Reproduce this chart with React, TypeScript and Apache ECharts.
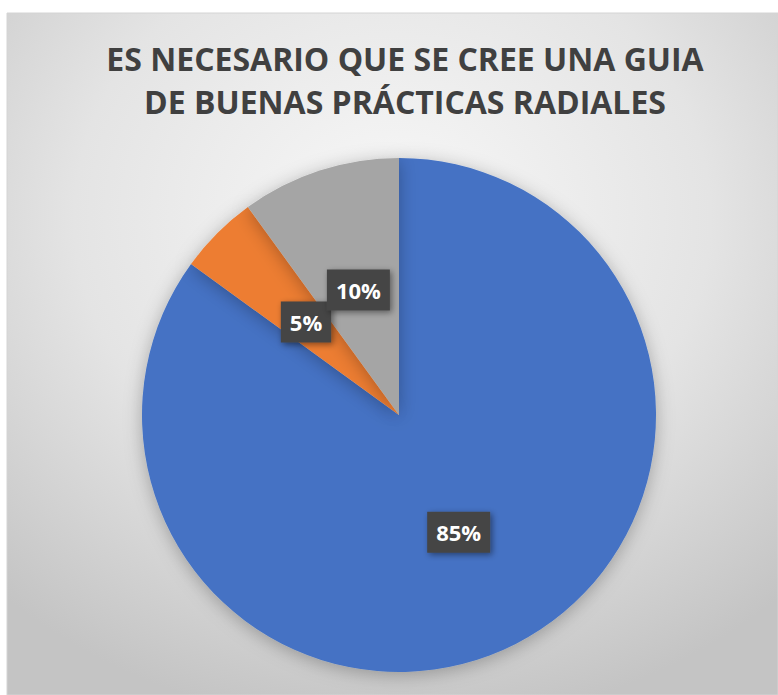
import React, { useEffect, useRef } from "react";
import * as echarts from "echarts";

const titleLines = ["ES NECESARIO QUE SE CREE UNA GUIA", "DE BUENAS PRÁCTICAS RADIALES"];
const categories = ["Sí", "No", "No sabe"];
const values = [85, 5, 10];
const colors = ["#4472C4", "#ED7D31", "#A5A5A5"];

export default function App() {
  const ref = useRef<HTMLDivElement>(null);
  useEffect(() => {
    if (!ref.current) return;
    const chart = echarts.init(ref.current, undefined, { renderer: "svg" });
    const font = "'Open Sans', 'Noto Sans', sans-serif";
    chart.setOption({
      animation: false,
      graphic: [
        {
          type: "rect",
          z: -10,
          silent: true,
          shape: { x: 7, y: 13, width: 771, height: 682 },
          style: {
            fill: new echarts.graphic.RadialGradient(0.5, 0.3, 0.75, [
              { offset: 0, color: "#f8f8f8" },
              { offset: 0.55, color: "#e4e4e4" },
              { offset: 1, color: "#c4c4c4" },
            ]),
            stroke: "#d4d4d4",
            lineWidth: 1,
          },
        },
        ...titleLines.map((t, i) => ({
          type: "text",
          z: 10,
          x: 405,
          y: 74 + i * 43,
          style: {
            text: t,
            fill: "#404040",
            font: `bold 32px ${font}`,
            textAlign: "center",
            textVerticalAlign: "bottom",
          },
        })),
      ],
      series: [
        {
          type: "pie",
          center: [399, 415],
          radius: [0, 257],
          startAngle: 90,
          clockwise: true,
          avoidLabelOverlap: false,
          labelLayout: { hideOverlap: false },
          data: categories.map((c, i) => ({
            name: c,
            value: values[i],
            itemStyle: { color: colors[i] },
          })),
          itemStyle: {
            shadowBlur: 18,
            shadowColor: "rgba(0,0,0,0.28)",
            shadowOffsetY: 3,
          },
          label: {
            show: true,
            position: "inside",
            formatter: "{d}%",
            color: "#ffffff",
            fontFamily: font,
            fontWeight: "bold",
            fontSize: 22,
            lineHeight: 23,
            backgroundColor: "#444444",
            padding: [9, 9],
            shadowBlur: 6,
            shadowColor: "rgba(0,0,0,0.45)",
            shadowOffsetX: 2,
            shadowOffsetY: 2,
          },
          labelLine: { show: false },
          emphasis: { disabled: true },
        },
      ],
    });
    return () => chart.dispose();
  }, []);
  return (
    <div
      ref={ref}
      style={{ position: "fixed", left: 0, top: 0, width: 778, height: 695, background: "#ffffff" }}
    />
  );
}
